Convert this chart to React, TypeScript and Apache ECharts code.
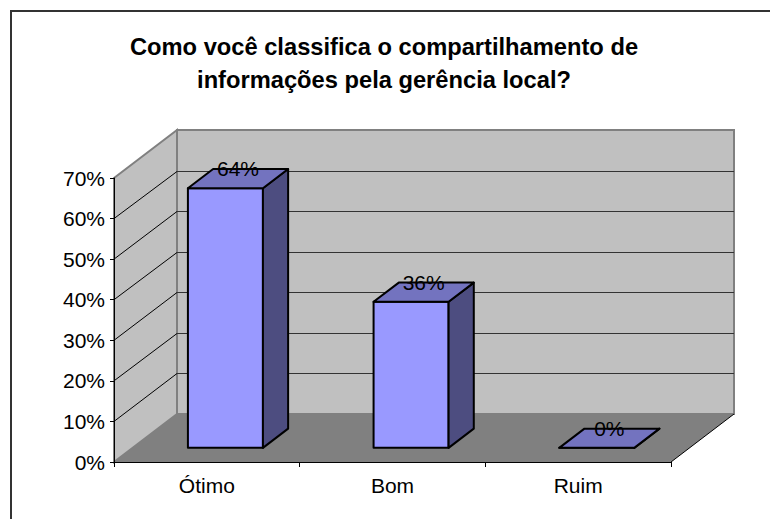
import React, { useEffect, useRef } from "react";
import * as echarts from "echarts";

const titleLines = [
  "Como você classifica o compartilhamento de",
  "informações pela gerência local?",
];
const categories = ["Ótimo", "Bom", "Ruim"];
const values = [64, 36, 0];
const yTicks = [0, 10, 20, 30, 40, 50, 60, 70];

const FONT = '"Liberation Sans", Arial, sans-serif';
const DEPTH_X = 63;
const DEPTH_Y = -48;
const BAR_RATIO = 0.404;
const BAR_INSET = 0.295;
const BAR_DEPTH = 0.4;
const GRID = { left: 114, top: 178, width: 557, height: 284 };

function App() {
  const ref = useRef<HTMLDivElement>(null);
  useEffect(() => {
    const chart = echarts.init(ref.current!, null, { renderer: "svg" });

    const renderWalls = (params: any) => {
      const c = params.coordSys;
      const l = c.x, r = c.x + c.width, t = c.y, b = c.y + c.height;
      const poly = (points: number[][], fill: string, stroke = "none", lineWidth = 0) => ({
        type: "polygon",
        shape: { points },
        style: { fill, stroke, lineWidth },
      });
      return {
        type: "group",
        children: [
          poly(
            [[l + DEPTH_X, t + DEPTH_Y], [r + DEPTH_X, t + DEPTH_Y], [r + DEPTH_X, b + DEPTH_Y], [l + DEPTH_X, b + DEPTH_Y]],
            "#C0C0C0", "#808080", 2
          ),
          poly(
            [[l, t], [l + DEPTH_X, t + DEPTH_Y], [l + DEPTH_X, b + DEPTH_Y], [l, b]],
            "#C0C0C0", "#808080", 2
          ),
          poly(
            [[l, b], [r, b], [r + DEPTH_X, b + DEPTH_Y], [l + DEPTH_X, b + DEPTH_Y]],
            "#808080"
          ),
          {
            type: "line",
            shape: { x1: r, y1: b, x2: r + DEPTH_X, y2: b + DEPTH_Y },
            style: { stroke: "#000", lineWidth: 1 },
          },
        ],
      };
    };

    const renderGridLine = (params: any, api: any) => {
      const c = params.coordSys;
      const v = api.value(0);
      const y = api.coord([0, v])[1];
      if (v === 0 || v === 70) return { type: "group", children: [] };
      const yb = Math.round(y + DEPTH_Y) + 0.5;
      return {
        type: "group",
        children: [
          {
            type: "line",
            shape: { x1: c.x, y1: y, x2: c.x + DEPTH_X, y2: yb },
            style: { stroke: "#000", lineWidth: 1 },
          },
          {
            type: "line",
            shape: { x1: c.x + DEPTH_X, y1: yb, x2: c.x + c.width + DEPTH_X, y2: yb },
            style: { stroke: "#333", lineWidth: 1 },
          },
        ],
      };
    };

    const renderBar = (_params: any, api: any) => {
      const idx = api.value(0);
      const val = api.value(1);
      const band = api.size([1, 0])[0];
      const w = band * BAR_RATIO;
      const [cx, yTop] = api.coord([idx, val]);
      const yBase = api.coord([idx, 0])[1];
      const ix = DEPTH_X * BAR_INSET;
      const iy = DEPTH_Y * BAR_INSET;
      const dx = DEPTH_X * BAR_DEPTH;
      const dy = DEPTH_Y * BAR_DEPTH;
      const x0 = cx - w / 2 + ix;
      const x1 = cx + w / 2 + ix;
      const y0 = yTop + iy;
      const yB = yBase + iy;
      const stroke = { stroke: "#000", lineWidth: 2, lineJoin: "round" };
      return {
        type: "group",
        children: [
          {
            type: "polygon",
            shape: { points: [[x0, y0], [x1, y0], [x1, yB], [x0, yB]] },
            style: { fill: "#9999FF", ...stroke },
          },
          {
            type: "polygon",
            shape: { points: [[x1, y0], [x1 + dx, y0 + dy], [x1 + dx, yB + dy], [x1, yB]] },
            style: { fill: "#4D4D80", ...stroke },
          },
          {
            type: "polygon",
            shape: { points: [[x0, y0], [x1, y0], [x1 + dx, y0 + dy], [x0 + dx, y0 + dy]] },
            style: { fill: "#7373BF", ...stroke },
          },
          {
            type: "text",
            x: (x0 + x1 + dx) / 2,
            y: y0 + dy / 2 - 10,
            style: {
              text: `${val}%`,
              fill: "#000",
              font: `21px ${FONT}`,
              textAlign: "center",
              textVerticalAlign: "middle",
            },
          },
        ],
      };
    };

    chart.setOption({
      animation: false,
      backgroundColor: "#fff",
      title: {
        text: titleLines.join("\n"),
        left: 379,
        top: 25,
        textAlign: "center",
        textStyle: { fontFamily: FONT, fontSize: 23.7, fontWeight: "bold", color: "#000", lineHeight: 33 },
      },
      grid: { ...GRID },
      xAxis: {
        type: "category",
        data: categories,
        z: 10,
        axisLine: { lineStyle: { color: "#000", width: 1 } },
        axisTick: { show: true, length: 5, lineStyle: { color: "#000" } },
        axisLabel: { fontFamily: FONT, fontSize: 21, color: "#000", margin: 13 },
        splitLine: { show: false },
      },
      yAxis: {
        type: "value",
        min: 0,
        max: 70,
        interval: 10,
        z: 10,
        axisLine: { show: true, lineStyle: { color: "#000", width: 1 } },
        axisTick: { show: true, length: 4, lineStyle: { color: "#000" } },
        axisLabel: {
          fontFamily: FONT,
          fontSize: 21,
          color: "#000",
          margin: 9,
          padding: [0, 0, 2, 0],
          formatter: (v: number) => `${v}%`,
        },
        splitLine: { show: false },
      },
      graphic: [
        {
          type: "polyline",
          z: 20,
          shape: { points: [[11, 519], [11, 11], [770, 11]] },
          style: { fill: "none", stroke: "#333", lineWidth: 2 },
        },
      ],
      series: [
        { type: "custom", coordinateSystem: "cartesian2d", z: 1, data: [[0, 0]], renderItem: renderWalls, silent: true },
        {
          type: "custom",
          coordinateSystem: "cartesian2d",
          z: 2,
          data: yTicks.map((v) => [v]),
          encode: { y: 0 },
          renderItem: renderGridLine,
          silent: true,
        },
        {
          type: "custom",
          coordinateSystem: "cartesian2d",
          z: 3,
          data: values.map((v, i) => [i, v]),
          encode: { x: 0, y: 1 },
          renderItem: renderBar,
          silent: true,
        },
      ],
    });
    return () => chart.dispose();
  }, []);
  return (
    <div
      ref={ref}
      style={{ position: "absolute", left: 0, top: 0, width: 770, height: 519 }}
    />
  );
}

export default App;
